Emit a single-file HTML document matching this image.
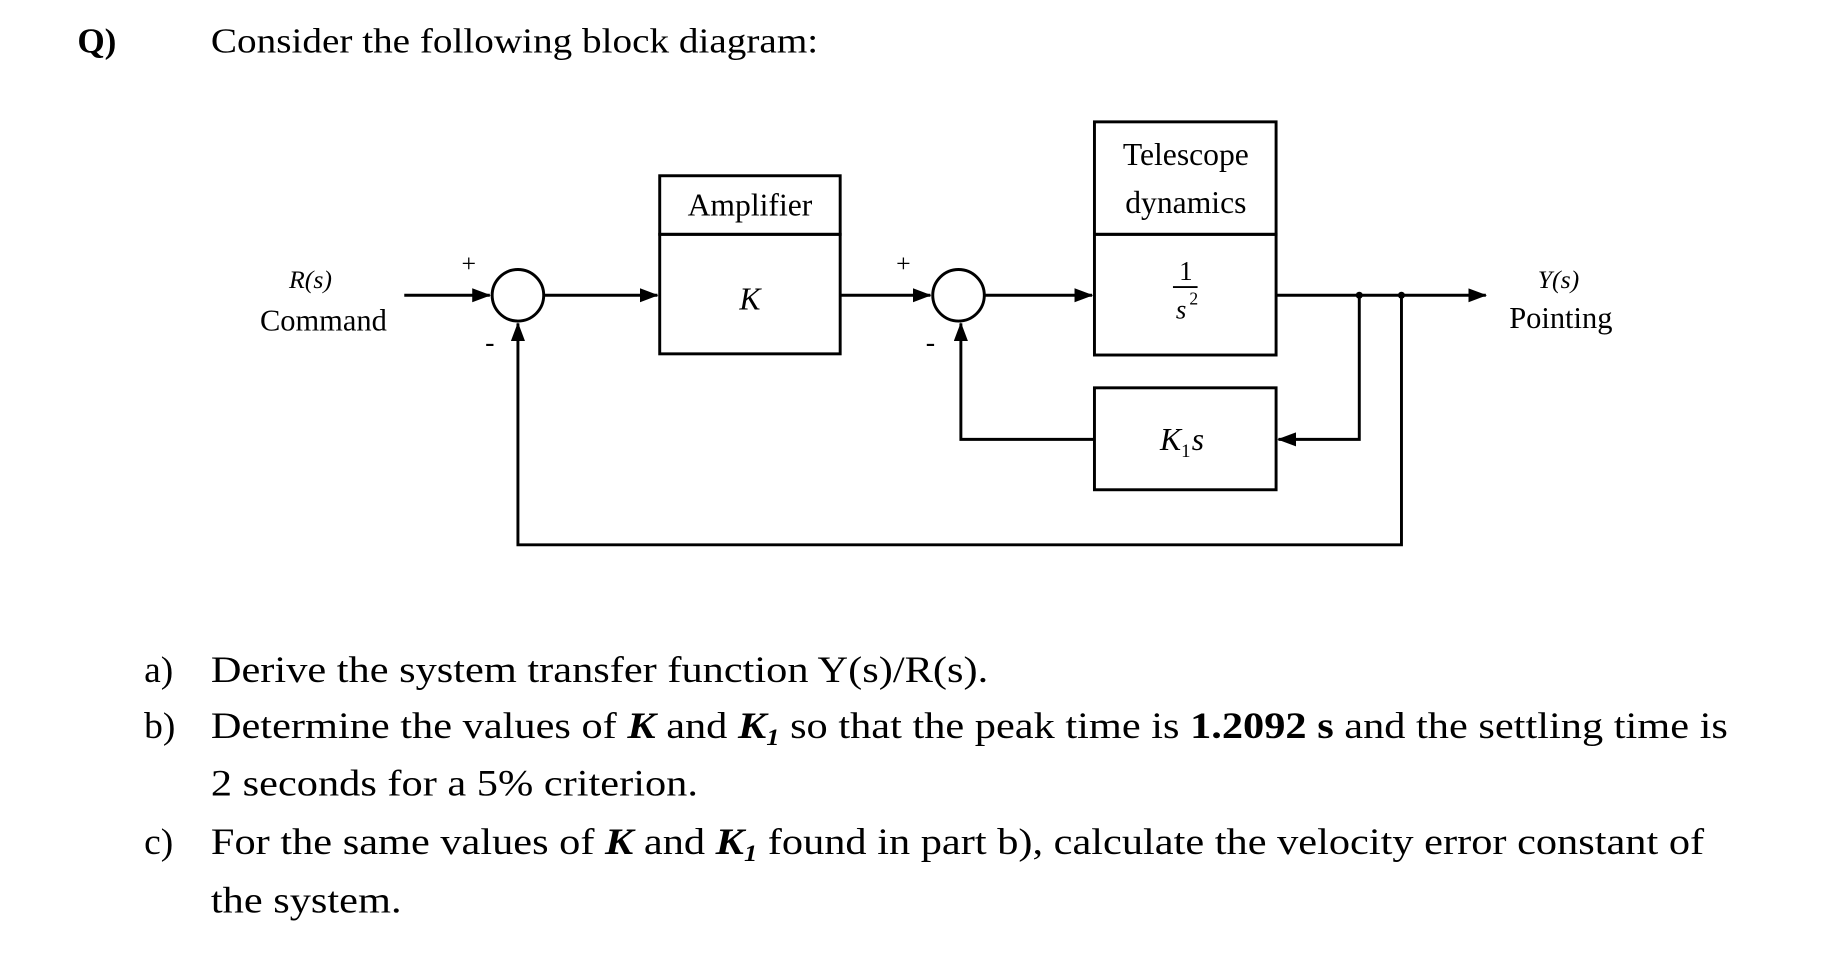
<!DOCTYPE html>
<html><head><style>html,body{margin:0;padding:0;background:#fff;}svg{display:block}</style></head>
<body>
<svg width="1828" height="976" viewBox="0 0 1560 833" preserveAspectRatio="none" xmlns="http://www.w3.org/2000/svg">
<defs><marker id="b" markerWidth="16" markerHeight="12" refX="15" refY="6" orient="auto" markerUnits="userSpaceOnUse"><path d="M0,0 L16,6 L0,12 Z" fill="#000"/></marker></defs>
<g font-family="Liberation Serif, serif" fill="#000">
<text x="66" y="45" font-size="30" font-weight="bold">Q)</text>
<g transform="translate(180,0) scale(1.115,1) translate(-180,0)"><text x="180" y="45" font-size="30">Consider the following block diagram:</text></g>
</g>
<g stroke="#000" stroke-width="2.5" fill="none">
<rect x="563" y="150" width="154" height="50"/>
<rect x="563" y="200" width="154" height="102"/>
<rect x="934" y="104" width="155" height="96"/>
<rect x="934" y="200" width="155" height="103"/>
<rect x="934" y="331" width="155" height="87"/>
<circle cx="442" cy="252" r="22"/>
<circle cx="818" cy="252" r="22"/>
<line x1="345" y1="252" x2="418" y2="252" marker-end="url(#b)"/>
<line x1="464" y1="252" x2="561" y2="252" marker-end="url(#b)"/>
<line x1="717" y1="252" x2="794" y2="252" marker-end="url(#b)"/>
<line x1="840" y1="252" x2="932" y2="252" marker-end="url(#b)"/>
<line x1="1089" y1="252" x2="1268" y2="252" marker-end="url(#b)"/>
<polyline points="1160,252 1160,375 1091,375" marker-end="url(#b)"/>
<polyline points="934,375 820,375 820,276" marker-end="url(#b)"/>
<polyline points="1196,252 1196,465 442,465 442,276" marker-end="url(#b)"/>
<line x1="1001" y1="245" x2="1022" y2="245" stroke-width="1.5"/>
</g>
<g fill="#000">
<circle cx="1160" cy="252" r="3"/><circle cx="1196" cy="252" r="3"/>
</g>
<g font-family="Liberation Serif, serif" fill="#000" font-size="27">
<text x="640" y="184" text-anchor="middle">Amplifier</text>
<text x="1012" y="141" text-anchor="middle">Telescope</text>
<text x="1012" y="182" text-anchor="middle">dynamics</text>
<text x="640" y="264" text-anchor="middle" font-style="italic">K</text>
<text x="1012" y="239" text-anchor="middle" font-size="23">1</text>
<text x="1008" y="272" text-anchor="middle" font-size="23" font-style="italic">s</text>
<text x="1015" y="260" font-size="15">2</text>
<text x="990" y="384" font-style="italic">K</text><text x="1008" y="390" font-size="16">1</text><text x="1017" y="384" font-style="italic">s</text>
<text x="265" y="246" text-anchor="middle" font-size="22" font-style="italic">R(s)</text>
<text x="276" y="282" text-anchor="middle" font-size="26">Command</text>
<text x="1330" y="246" text-anchor="middle" font-size="22" font-style="italic">Y(s)</text>
<text x="1332" y="280" text-anchor="middle" font-size="26">Pointing</text>
<text x="400" y="232" text-anchor="middle" font-size="22">+</text>
<text x="418" y="300" text-anchor="middle" font-size="24">-</text>
<text x="771" y="232" text-anchor="middle" font-size="22">+</text>
<text x="794" y="300" text-anchor="middle" font-size="24">-</text>
</g>
<g font-family="Liberation Serif, serif" fill="#000" font-size="32">
<text x="123" y="582">a)</text>
<text x="123" y="630">b)</text>
<text x="123" y="729">c)</text>
<g transform="translate(180,0) scale(1.13,1) translate(-180,0)">
<text x="180" y="582">Derive the system transfer function Y(s)/R(s).</text>
<text x="180" y="630">Determine the values of <tspan font-weight="bold" font-style="italic">K</tspan> and <tspan font-weight="bold" font-style="italic">K<tspan font-size="20" dy="6">1</tspan></tspan><tspan dy="-6"> so that the peak time is </tspan><tspan font-weight="bold">1.2092 s</tspan> and the settling time is</text>
<text x="180" y="679">2 seconds for a 5% criterion.</text>
<text x="180" y="729">For the same values of <tspan font-weight="bold" font-style="italic">K</tspan> and <tspan font-weight="bold" font-style="italic">K<tspan font-size="20" dy="6">1</tspan></tspan><tspan dy="-6"> found in part b), calculate the velocity error constant of</tspan></text>
<text x="180" y="779">the system.</text>
</g>
</g>
</svg>
</body></html>
